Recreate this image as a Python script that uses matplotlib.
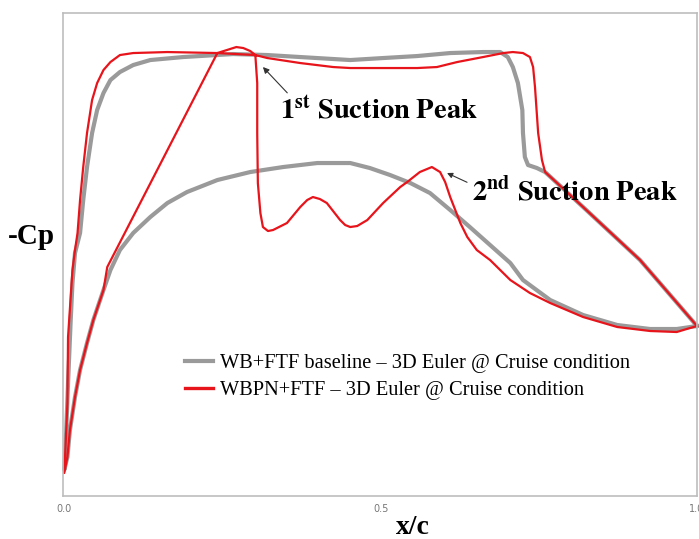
import matplotlib
matplotlib.use('Agg')
import matplotlib.pyplot as plt

plt.rcParams['font.family'] = ['Liberation Serif', 'DejaVu Serif']
plt.rcParams['mathtext.fontset'] = 'stix'

# chordwise -Cp, baseline wing-body + FTF
wb_upper_x = [0.0, 0.003, 0.006, 0.010, 0.013, 0.017, 0.021, 0.025, 0.030, 0.036, 0.044,
              0.052, 0.062, 0.073, 0.088, 0.109, 0.136, 0.188, 0.267, 0.321, 0.373,
              0.452, 0.504, 0.558, 0.610, 0.662, 0.689, 0.701, 0.709, 0.717, 0.724,
              0.725, 0.728, 0.733, 0.747, 0.760, 0.820, 0.910, 1.0]
wb_upper_cp = [-0.985, -0.80, -0.55, -0.25, -0.05, 0.10, 0.15, 0.20, 0.365, 0.53, 0.70,
               0.815, 0.90, 0.965, 1.005, 1.04, 1.065, 1.08, 1.095, 1.09, 1.08,
               1.065, 1.075, 1.085, 1.10, 1.105, 1.105, 1.08, 1.03, 0.95, 0.815,
               0.70, 0.58, 0.54, 0.525, 0.505, 0.33, 0.065, -0.265]
wb_lower_x = [0.0, 0.005, 0.009, 0.017, 0.025, 0.036, 0.046, 0.062, 0.073, 0.088, 0.109,
              0.136, 0.163, 0.194, 0.242, 0.294, 0.346, 0.400, 0.452, 0.483, 0.515,
              0.547, 0.578, 0.610, 0.641, 0.673, 0.705, 0.725, 0.768, 0.820, 0.874,
              0.926, 0.968, 1.0]
wb_lower_cp = [-0.985, -0.92, -0.785, -0.62, -0.485, -0.35, -0.235, -0.085, 0.015, 0.115, 0.20,
               0.28, 0.35, 0.405, 0.465, 0.505, 0.53, 0.55, 0.55, 0.525, 0.49,
               0.45, 0.40, 0.315, 0.23, 0.14, 0.05, -0.035, -0.135, -0.21, -0.26,
               -0.28, -0.28, -0.265]

# WBPN + FTF
wbpn_upper_x = [0.0, 0.002, 0.005, 0.006, 0.013, 0.017, 0.021, 0.025, 0.030, 0.036, 0.044,
                0.052, 0.062, 0.073, 0.088, 0.109, 0.163, 0.242, 0.302, 0.321, 0.373,
                0.425, 0.452, 0.504, 0.558, 0.589, 0.621, 0.662, 0.694, 0.709, 0.725,
                0.736, 0.741, 0.744, 0.749, 0.755, 0.760, 0.820, 0.910, 1.0]
wbpn_upper_cp = [-1.0, -0.87, -0.65, -0.32, 0.015, 0.115, 0.20, 0.365, 0.53, 0.70, 0.865,
                 0.95, 1.015, 1.055, 1.09, 1.10, 1.105, 1.10, 1.09, 1.075, 1.05,
                 1.03, 1.025, 1.025, 1.025, 1.03, 1.055, 1.08, 1.10, 1.105, 1.10,
                 1.08, 1.03, 0.93, 0.70, 0.565, 0.505, 0.33, 0.065, -0.265]
wbpn_lower_x = [0.0, 0.005, 0.009, 0.017, 0.025, 0.036, 0.046, 0.062, 0.068, 0.242, 0.262,
                0.272, 0.283, 0.294, 0.302, 0.305, 0.305, 0.306, 0.310, 0.314, 0.322,
                0.330, 0.352, 0.373, 0.384, 0.393, 0.404, 0.415, 0.436, 0.444, 0.452,
                0.463, 0.479, 0.504, 0.531, 0.542, 0.562, 0.581, 0.594, 0.602, 0.610,
                0.618, 0.626, 0.637, 0.652, 0.673, 0.705, 0.736, 0.768, 0.820, 0.874,
                0.926, 0.968, 0.989, 1.0]
wbpn_lower_cp = [-1.0, -0.92, -0.785, -0.62, -0.485, -0.35, -0.235, -0.085, 0.03, 1.10, 1.12,
                 1.13, 1.125, 1.11, 1.09, 0.95, 0.70, 0.45, 0.30, 0.23, 0.21,
                 0.215, 0.25, 0.33, 0.365, 0.38, 0.37, 0.35, 0.265, 0.24, 0.23,
                 0.235, 0.265, 0.35, 0.43, 0.455, 0.505, 0.53, 0.505, 0.455, 0.38,
                 0.315, 0.25, 0.18, 0.115, 0.065, -0.035, -0.10, -0.15, -0.22, -0.27,
                 -0.29, -0.295, -0.275, -0.265]

xticks = [0.0, 0.5, 1.0]
xticklabels = ['0.0', '0.5', '1.0']

gray_c = '#9a9a9a'
red_c = '#e8141b'

fig = plt.figure(figsize=(6.99, 5.39), dpi=100)
ax = fig.add_axes([0.0901, 0.0798, 0.907, 0.896])

# closed loops: upper surface TE->LE, then lower surface LE->TE
ax.plot(wb_upper_x[::-1] + wb_lower_x, wb_upper_cp[::-1] + wb_lower_cp,
        color=gray_c, lw=3.0, solid_joinstyle='round', clip_on=False,
        label='WB+FTF baseline \u2013 3D Euler @ Cruise condition')
ax.plot(wbpn_upper_x[::-1] + wbpn_lower_x, wbpn_upper_cp[::-1] + wbpn_lower_cp,
        color=red_c, lw=1.6, solid_joinstyle='round', clip_on=False,
        label='WBPN+FTF \u2013 3D Euler @ Cruise condition')

ax.set_xlim(-0.002, 1.0)
ax.set_ylim(-1.115, 1.30)
ax.set_yticks([])
ax.set_xticks(xticks)
ax.set_xticklabels(xticklabels, fontsize=7, color='#777777', family='DejaVu Sans')
ax.tick_params(axis='x', length=0, pad=6)
for s in ax.spines.values():
    s.set_color('#bdbdbd')
    s.set_linewidth(1.2)

ax.annotate(r'$\mathbf{1^{st}\ Suction\ Peak}$', xy=(0.314, 1.03), xytext=(0.341, 0.815),
            fontsize=20.5, ha='left', va='center',
            arrowprops=dict(arrowstyle='-|>', color='#333333', lw=0.8,
                            shrinkA=0, shrinkB=0, mutation_scale=9,
                            relpos=(0.05, 1.0)))
ax.annotate(r'$\mathbf{2^{nd}\ Suction\ Peak}$', xy=(0.605, 0.50), xytext=(0.645, 0.405),
            fontsize=20.5, ha='left', va='center',
            arrowprops=dict(arrowstyle='-|>', color='#333333', lw=0.8,
                            shrinkA=2, shrinkB=0, mutation_scale=8,
                            relpos=(0.0, 0.75)))

leg = ax.legend(loc='center left', bbox_to_anchor=(0.1924, 0.2464), frameon=False,
                fontsize=14.7, handlelength=1.37, handletextpad=0.34, borderpad=0,
                borderaxespad=0, labelspacing=0.38)
leg.get_lines()[1].set_linewidth(2.4)

fig.text(31 / 699, 1 - 236 / 539, '-Cp', fontsize=21, fontweight='bold',
         ha='center', va='center')
fig.text(413 / 699, 1 - 527 / 539, 'x/c', fontsize=20, fontweight='bold',
         ha='center', va='center')

fig.savefig('out.png', dpi=100)
